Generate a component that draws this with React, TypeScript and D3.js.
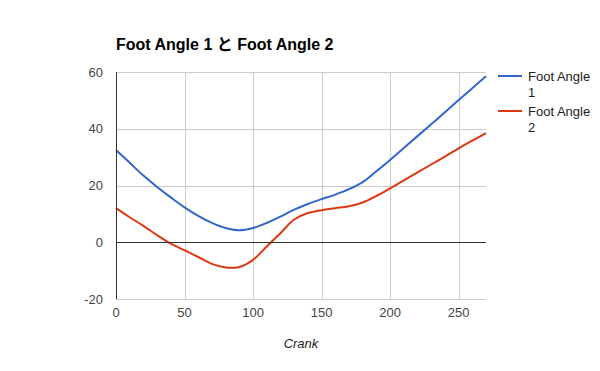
import * as d3 from "d3";
import { useEffect, useRef } from "react";

const crank = [0, 10, 20, 30, 40, 50, 60, 70, 80, 90, 100, 110, 120, 130, 140, 150, 160, 170, 180, 190, 200, 210, 220, 230, 240, 250, 260, 270];
const footAngle1 = [32.5, 28, 23.5, 19.5, 15.8, 12.3, 9.3, 6.8, 5, 4.2, 5, 6.8, 9, 11.5, 13.5, 15.2, 16.8, 18.7, 21.2, 25, 29, 33.2, 37.4, 41.6, 45.8, 50.1, 54.3, 58.5];
const footAngle2 = [12, 8.8, 5.8, 2.5, -0.5, -2.8, -5.2, -7.6, -8.9, -8.7, -6.2, -1.5, 3.2, 8, 10.3, 11.3, 12, 12.7, 14, 16.3, 19, 21.8, 24.6, 27.4, 30.2, 33.1, 35.8, 38.5];
const seriesNames = ["Foot Angle 1", "Foot Angle 2"];
const colors = ["#3366cc", "#dc3912"];
const xTicks = [0, 50, 100, 150, 200, 250];
const yTicks = [-20, 0, 20, 40, 60];

const font = "Arial, 'Liberation Sans', 'Noto Sans CJK JP', sans-serif";

export default function App() {
  const ref = useRef<SVGSVGElement>(null);

  const svgWidth = 600,
    svgHeight = 371,
    margin = { top: 72, right: 114, bottom: 72, left: 116 },
    width = svgWidth - margin.left - margin.right,
    height = svgHeight - margin.top - margin.bottom;

  useEffect(() => {
    const svg = d3.select(ref.current);
    svg.selectAll("*").remove();

    const x = d3.scaleLinear().domain([0, 270]).range([0, width]);
    const y = d3.scaleLinear().domain([-20, 60]).range([height, 0]);

    svg
      .append("text")
      .attr("x", 116)
      .attr("y", 50)
      .attr("font-family", font)
      .attr("font-size", 16)
      .attr("font-weight", "bold")
      .attr("fill", "#000")
      .text("Foot Angle 1 と Foot Angle 2");

    const g = svg.append("g").attr("transform", `translate(${margin.left},${margin.top})`);

    // gridlines
    g.append("g")
      .selectAll("line")
      .data(yTicks.filter((d) => d !== 0))
      .join("line")
      .attr("x1", 0)
      .attr("x2", width)
      .attr("y1", (d) => Math.round(y(d)) + 0.5)
      .attr("y2", (d) => Math.round(y(d)) + 0.5)
      .attr("stroke", "#cccccc");

    g.append("g")
      .selectAll("line")
      .data(xTicks.filter((d) => d !== 0))
      .join("line")
      .attr("x1", (d) => Math.round(x(d)) + 0.5)
      .attr("x2", (d) => Math.round(x(d)) + 0.5)
      .attr("y1", 0)
      .attr("y2", height)
      .attr("stroke", "#cccccc");

    // tick labels
    g.append("g")
      .selectAll("text")
      .data(yTicks)
      .join("text")
      .attr("x", -13)
      .attr("y", (d) => y(d) + 4.5)
      .attr("text-anchor", "end")
      .attr("font-family", font)
      .attr("font-size", 13)
      .attr("fill", "#444")
      .text((d) => d);

    g.append("g")
      .selectAll("text")
      .data(xTicks)
      .join("text")
      .attr("x", (d) => x(d))
      .attr("y", height + 18)
      .attr("text-anchor", "middle")
      .attr("font-family", font)
      .attr("font-size", 13)
      .attr("fill", "#444")
      .text((d) => d);

    g.append("text")
      .attr("x", width / 2)
      .attr("y", height + 49)
      .attr("text-anchor", "middle")
      .attr("font-family", font)
      .attr("font-size", 13)
      .attr("font-style", "italic")
      .attr("fill", "#222")
      .text("Crank");

    // lines
    const line = d3
      .line<number>()
      .x((_, i) => x(crank[i]))
      .y((d) => y(d))
      .curve(d3.curveCatmullRom);

    [footAngle1, footAngle2].forEach((s, i) => {
      g.append("path")
        .datum(s)
        .attr("d", line)
        .attr("fill", "none")
        .attr("stroke", colors[i])
        .attr("stroke-width", 2);
    });

    // axes lines
    g.append("line")
      .attr("x1", 0)
      .attr("x2", width)
      .attr("y1", Math.round(y(0)) + 0.5)
      .attr("y2", Math.round(y(0)) + 0.5)
      .attr("stroke", "#333");
    g.append("line")
      .attr("x1", 0.5)
      .attr("x2", 0.5)
      .attr("y1", 0)
      .attr("y2", height)
      .attr("stroke", "#333");

    // legend
    const legend = svg.append("g").attr("transform", "translate(498,76)");
    seriesNames.forEach((name, i) => {
      const row = legend.append("g").attr("transform", `translate(0,${i * 35})`);
      row
        .append("line")
        .attr("x1", 0)
        .attr("x2", 24)
        .attr("y1", 0)
        .attr("y2", 0)
        .attr("stroke", colors[i])
        .attr("stroke-width", 2);
      const words = name.split(" ");
      const t = row
        .append("text")
        .attr("font-family", font)
        .attr("font-size", 13)
        .attr("fill", "#222");
      t.append("tspan").attr("x", 30).attr("y", 4.5).text(words.slice(0, 2).join(" "));
      t.append("tspan").attr("x", 30).attr("y", 20.5).text(words[2]);
    });
  }, []);

  return (
    <svg
      ref={ref}
      width={svgWidth}
      height={svgHeight}
      style={{ position: "absolute", left: 0, top: 0, background: "#fff" }}
    />
  );
}
